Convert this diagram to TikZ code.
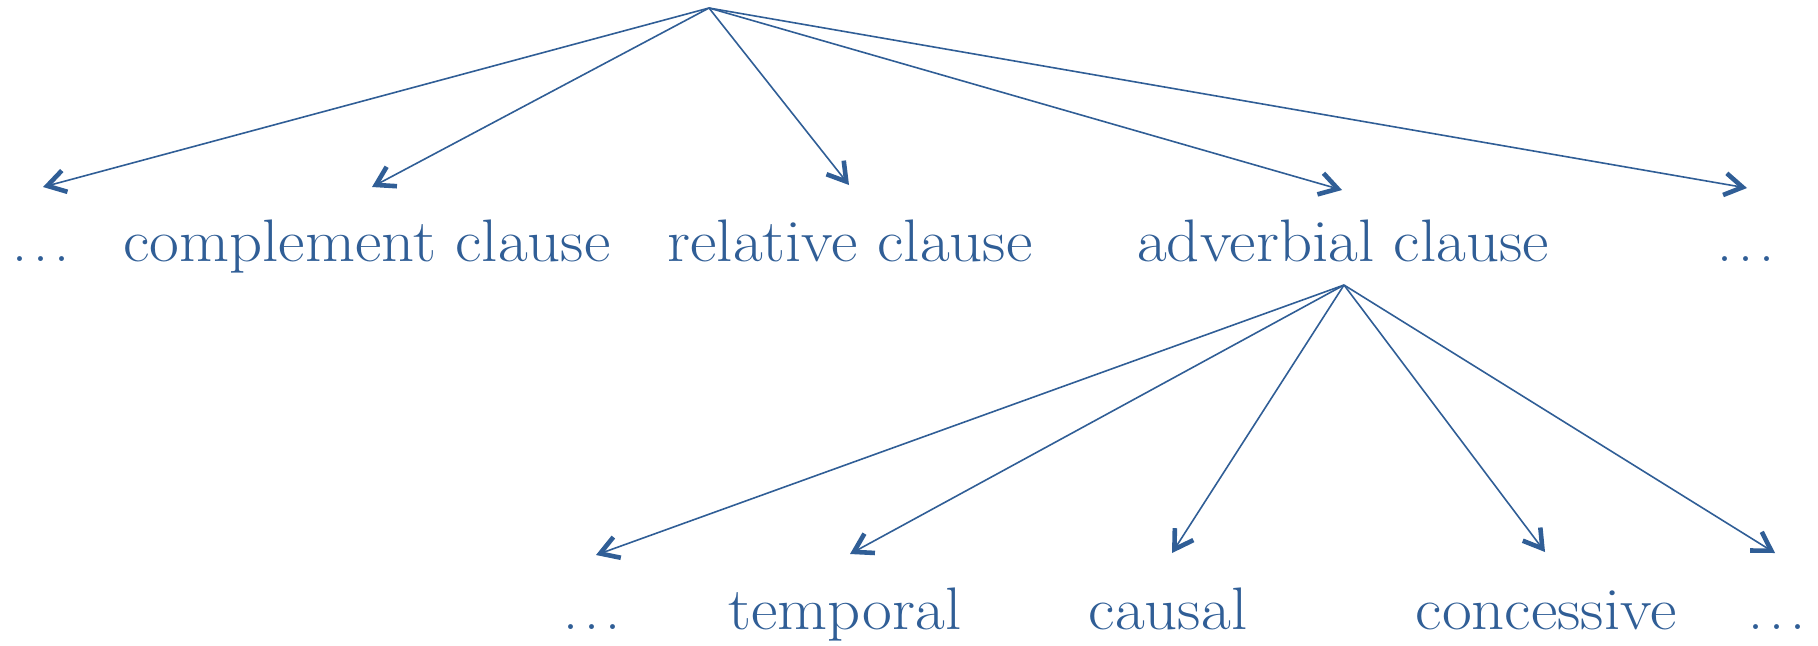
\documentclass[tikz,border=0pt]{standalone}
\usetikzlibrary{arrows.meta}
\definecolor{treeblue}{RGB}{48,94,150}
% widely spaced ellipsis
\newcommand{\wdots}{.\kern3pt.\kern3pt.}
\begin{document}
\begin{tikzpicture}[x=0.5pt,y=-0.5pt,
  lbl/.style={text=treeblue, font=\fontsize{30}{36}\selectfont, anchor=base, inner sep=0pt},
  edge/.style={draw=treeblue, line width=0.8pt,
    -{Straight Barb[length=9pt,width=11pt,line width=2.3pt]}}]
  \useasboundingbox (0,0) rectangle (1818,645);

  % upper level
  \coordinate (root) at (709,8);
  \node[lbl] (dotsL)  at (41,261)   {\wdots};
  \node[lbl] (compl)  at (367,261)  {\scalebox{1.08}[1]{complement clause}};
  \node[lbl] (rel)    at (850,261)  {\scalebox{1.08}[1]{relative clause}};
  \node[lbl] (adv)    at (1343,261) {\scalebox{1.08}[1]{adverbial clause}};
  \node[lbl] (dotsR)  at (1746,261) {\wdots};

  \coordinate (tDotsL) at (43,187);
  \coordinate (tCompl) at (372,187);
  \coordinate (tRel)   at (849,185);
  \coordinate (tAdv)   at (1342,190);
  \coordinate (tDotsR) at (1747,188);

  \draw[edge] (root) -- (tDotsL);
  \draw[edge] (root) -- (tCompl);
  \draw[edge] (root) -- (tRel);
  \draw[edge] (root) -- (tAdv);
  \draw[edge] (root) -- (tDotsR);

  % lower level, below the adverbial clause
  \coordinate (advroot) at (1344,285);
  \node[lbl] (dotsB)  at (592,629)  {\wdots};
  \node[lbl] (temp)   at (845,629)  {\scalebox{1.08}[1]{temporal}};
  \node[lbl] (caus)   at (1168,629) {\scalebox{1.08}[1]{causal}};
  \node[lbl] (conc)   at (1546,629) {\scalebox{1.08}[1]{concessive}};
  \node[lbl] (dotsE)  at (1777,629) {\wdots};

  \coordinate (tDotsB) at (596,555);
  \coordinate (tTemp)  at (850,554);
  \coordinate (tCaus)  at (1172,553);
  \coordinate (tConc)  at (1545,552);
  \coordinate (tDotsE) at (1775,553);

  \draw[edge] (advroot) -- (tDotsB);
  \draw[edge] (advroot) -- (tTemp);
  \draw[edge] (advroot) -- (tCaus);
  \draw[edge] (advroot) -- (tConc);
  \draw[edge] (advroot) -- (tDotsE);
\end{tikzpicture}
\end{document}
